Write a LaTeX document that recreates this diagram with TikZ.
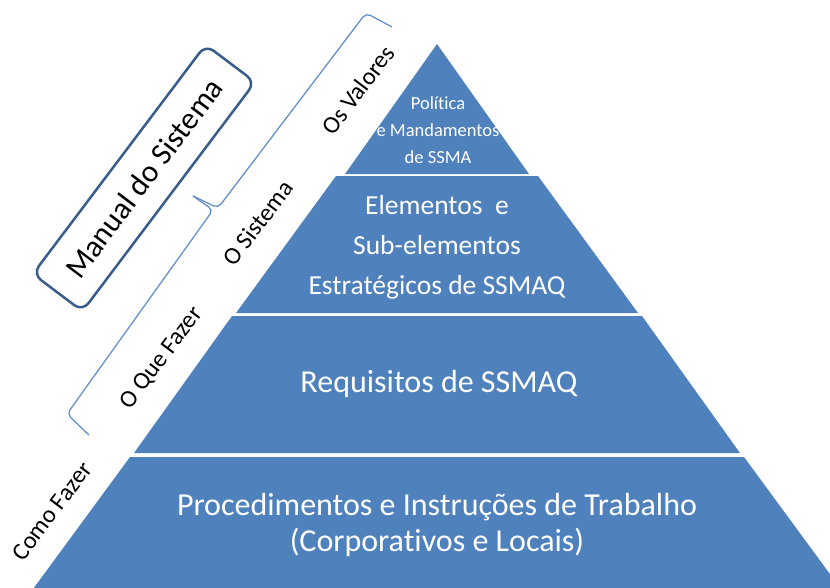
\documentclass[tikz,border=0pt]{standalone}
\usepackage{fontspec}
\setmainfont{Carlito}[Ligatures=NoCommon]
\definecolor{tierblue}{RGB}{79,129,189}
\definecolor{boxblue}{RGB}{56,93,138}
\definecolor{braceblue}{RGB}{100,145,205}
\begin{document}
\begin{tikzpicture}[x=1pt,y=-1pt,
  tier/.style={fill=tierblue, draw=none},
  tiertext/.style={text=white, align=center, inner sep=0pt},
  sidelabel/.style={rotate=53, font=\fontsize{24.5}{28}\selectfont, inner sep=0pt},
  bracepath/.style={draw=braceblue, line width=1.3pt, rounded corners=5pt}]
\useasboundingbox (0,0) rectangle (830,587);
\clip (0,0) rectangle (830,587);
% pyramid tiers
\fill[tier] (437,44) -- (529,174) -- (345,174) -- cycle;
\fill[tier] (336,176) -- (538,176) -- (638,313) -- (236,313) -- cycle;
\fill[tier] (232,316) -- (642,316) -- (740,453) -- (134,453) -- cycle;
\fill[tier] (130,457) -- (744,457) -- (849,600) -- (25,600) -- cycle;
% tier texts
\node[tiertext, font=\fontsize{18.5}{27}\selectfont] (t1) at (438,130) {Política\\e Mandamentos\\de SSMA};
\node[tiertext, font=\fontsize{27.5}{40}\selectfont] (t2) at (437,247) {Elementos\ \ e\\Sub-elementos\\Estratégicos de SSMAQ};
\node[tiertext, font=\fontsize{32}{36}\selectfont] (t3) at (439,384) {Requisitos de SSMAQ};
\node[tiertext, font=\fontsize{32}{36}\selectfont] (t4) at (437,525) {Procedimentos e Instruções de Trabalho\\(Corporativos e Locais)};
% side labels
\node[sidelabel] (valores) at (358,90) {Os Valores};
\node[sidelabel] (sistema) at (258,223) {O Sistema};
\node[sidelabel] (quefazer) at (162,358) {O Que Fazer};
\node[sidelabel] (comofazer) at (52,511) {Como Fazer};
% manual box
\node[draw=boxblue, line width=2.5pt, rounded corners=10pt, rotate=53,
  minimum width=287pt, minimum height=62pt, inner sep=0pt,
  font=\fontsize{31}{34}\selectfont] (manual) at (144,178) {Manual do Sistema};
% brace
\coordinate (bracetip) at (193,196);
\draw[bracepath] (392,27) -- (366,13) -- (218,208) -- (bracetip);
\draw[bracepath] (bracetip) -- (213,210) -- (67,414) -- (89,435);
\end{tikzpicture}
\end{document}
